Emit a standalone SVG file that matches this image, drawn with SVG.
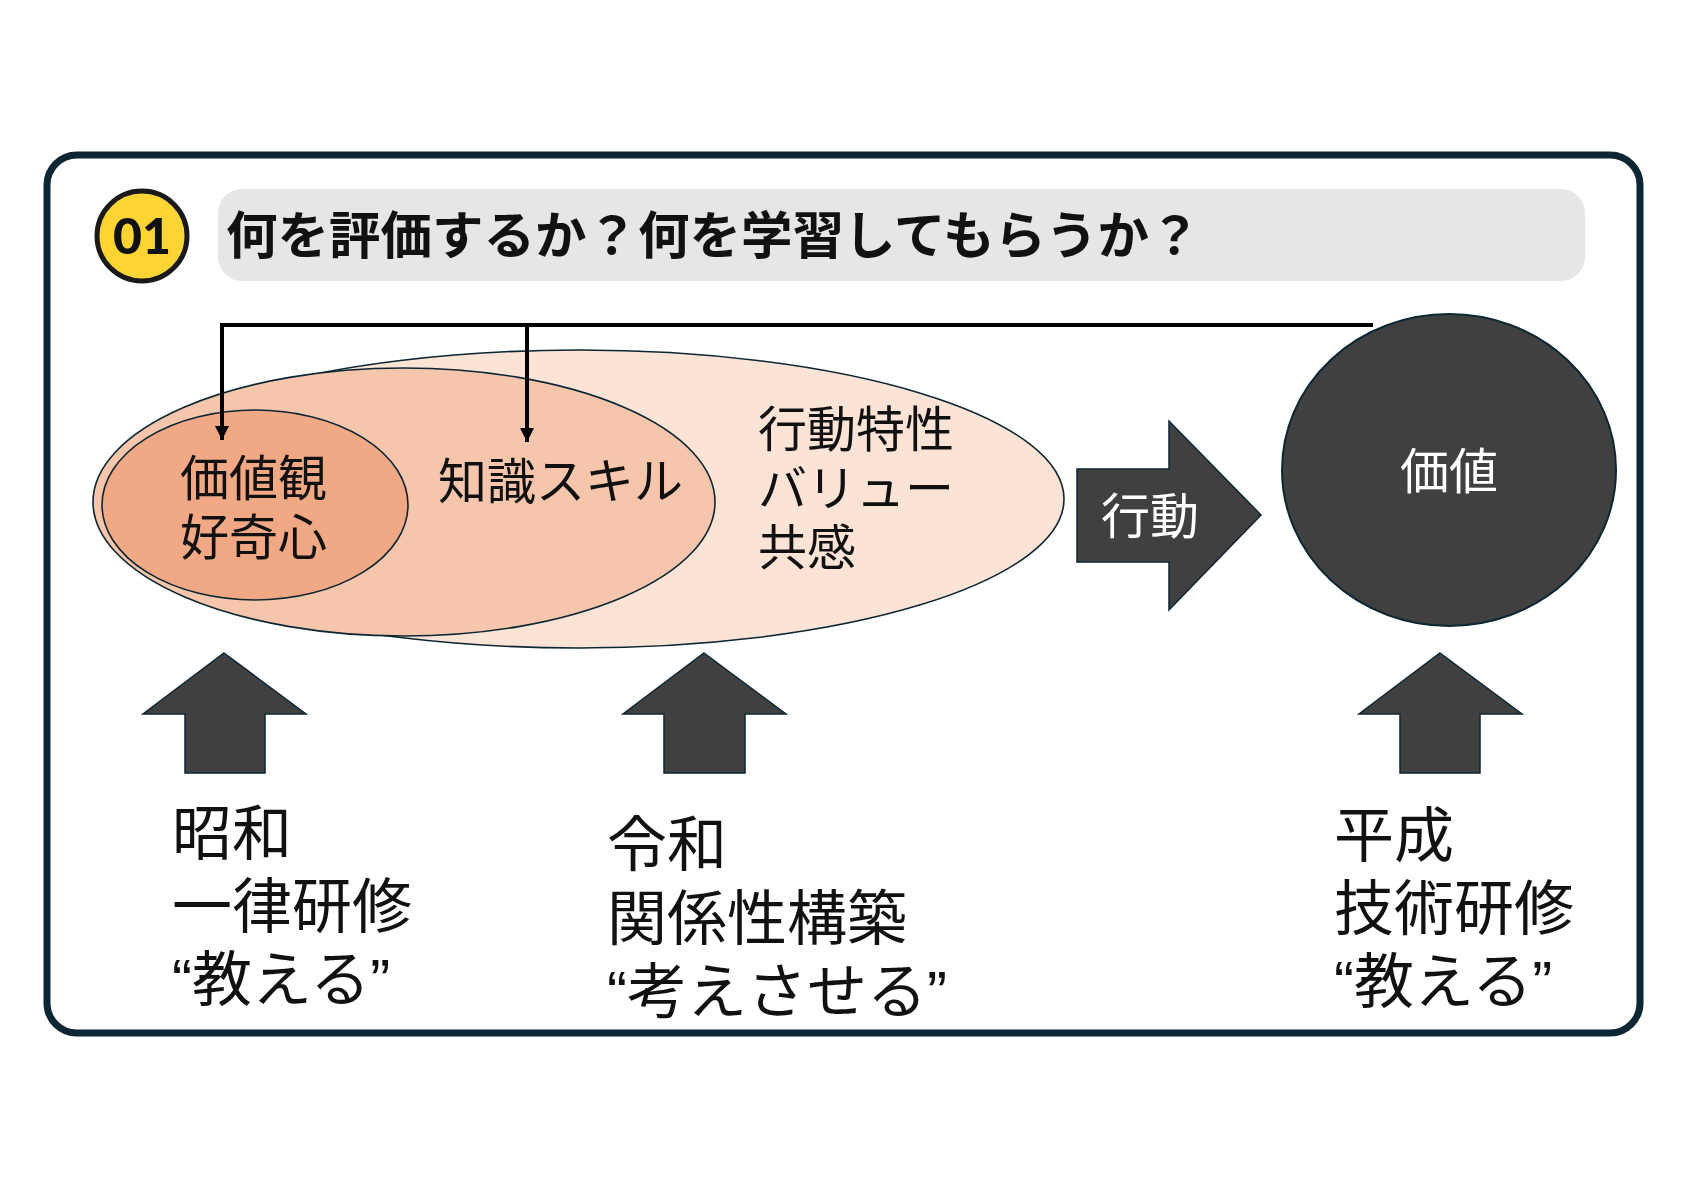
<svg xmlns="http://www.w3.org/2000/svg" width="1684" height="1191" viewBox="0 0 1684 1191">
<style>
.t{font-family:"Liberation Sans","Noto Sans CJK JP",sans-serif;fill:#111}
.w{fill:#fff}
.big{font-size:49px}
.lab{font-size:60px}
.ell{stroke:#0d2633;stroke-width:1.6}
.dark{fill:#404040;stroke:#0d2633;stroke-width:1.5}
.conn{fill:none;stroke:#000;stroke-width:4}
</style>
<defs>
<marker id="ah" viewBox="0 0 10 10" refX="10" refY="5" markerWidth="3.6" markerHeight="3.6" orient="auto" markerUnits="strokeWidth">
<path d="M0,0 L10,5 L0,10 Z" fill="#000"/>
</marker>
</defs>
<rect width="1684" height="1191" fill="#fff"/>
<g id="frame">
<rect x="47" y="155" width="1593" height="878" rx="30" fill="#fff" stroke="#0d2633" stroke-width="7"/>
</g>
<g id="badge">
<circle cx="142" cy="236" r="45" fill="#fcd535" stroke="#1a1a1a" stroke-width="5"/>
<text x="142" y="254" text-anchor="middle" style="font-family:Lato,'Liberation Sans',sans-serif;font-weight:900;font-size:50px;fill:#111">01</text>
</g>
<g id="title">
<rect x="218" y="189" width="1367" height="92" rx="24" fill="#e6e6e6"/>
<text class="t" x="226" y="254" style="font-size:51.5px;font-weight:bold">何を評価するか？何を学習してもらうか？</text>
</g>
<g id="outer-ellipse">
<ellipse class="ell" cx="579" cy="499" rx="485" ry="149" fill="#fbe3d6"/>
<text class="t big" x="758" y="447">行動特性</text>
<text class="t big" x="758" y="506">バリュー</text>
<text class="t big" x="758" y="565">共感</text>
</g>
<g id="middle-ellipse">
<ellipse class="ell" cx="404" cy="502" rx="311" ry="134" fill="#f5c6ac"/>
<text class="t big" x="438" y="499">知識スキル</text>
</g>
<g id="inner-ellipse">
<ellipse class="ell" cx="255" cy="505" rx="153" ry="95" fill="#f1a985"/>
<text class="t big" x="180" y="496">価値観</text>
<text class="t big" x="180" y="555">好奇心</text>
</g>
<g id="action-arrow">
<path class="dark" d="M1077,469 L1169,469 L1169,421 L1261,515 L1169,610 L1169,562 L1077,562 Z"/>
<text class="t big w" x="1101" y="534">行動</text>
</g>
<g id="value">
<ellipse cx="1449" cy="470" rx="167" ry="156" fill="#404040" stroke="#0d2633" stroke-width="2"/>
<text class="t big w" x="1449" y="489" text-anchor="middle">価値</text>
</g>
<g id="showa">
<path class="dark" d="M224,653 L306,714 L265,714 L265,773 L185,773 L185,714 L143,714 Z"/>
<text class="t lab" x="172" y="855">昭和</text>
<text class="t lab" x="172" y="928">一律研修</text>
<text class="t lab" x="172" y="1001">“教える”</text>
</g>
<g id="reiwa">
<path class="dark" d="M704,653 L786,714 L745,714 L745,773 L664,773 L664,714 L623,714 Z"/>
<text class="t lab" x="607" y="866">令和</text>
<text class="t lab" x="607" y="940">関係性構築</text>
<text class="t lab" x="607" y="1013">“考えさせる”</text>
</g>
<g id="heisei">
<path class="dark" d="M1440,653 L1522,714 L1480,714 L1480,773 L1400,773 L1400,714 L1359,714 Z"/>
<text class="t lab" x="1334" y="857">平成</text>
<text class="t lab" x="1334" y="930">技術研修</text>
<text class="t lab" x="1334" y="1003">“教える”</text>
</g>
<g id="connectors">
<path class="conn" d="M1373,325 L222,325 L222,440" marker-end="url(#ah)"/>
<path class="conn" d="M527,325 L527,442" marker-end="url(#ah)"/>
</g>
</svg>
